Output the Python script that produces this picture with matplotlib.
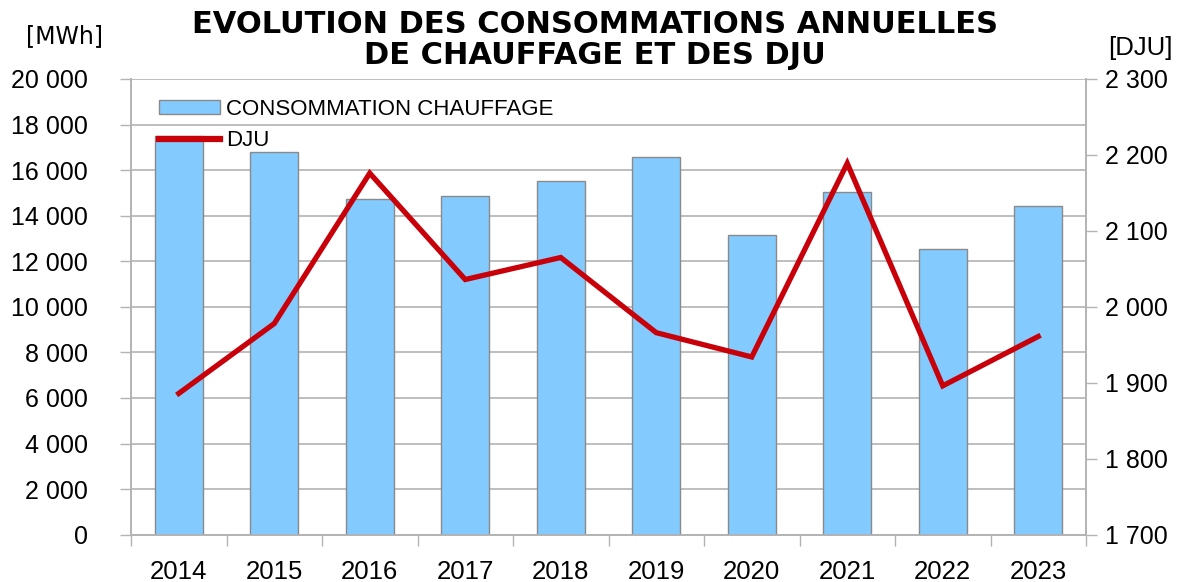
import matplotlib
matplotlib.use("Agg")
import matplotlib.pyplot as plt
from matplotlib.ticker import FuncFormatter, FixedLocator
from matplotlib.patches import Patch
from matplotlib.lines import Line2D

years = ["2014", "2015", "2016", "2017", "2018", "2019", "2020", "2021", "2022", "2023"]
consommation = [17520, 16810, 14750, 14860, 15540, 16590, 13150, 15060, 12530, 14440]
dju = [1886, 1978, 2176, 2036, 2065, 1966, 1934, 2189, 1896, 1961]

plt.rcParams['font.family'] = ['Liberation Sans', 'DejaVu Sans']

fig = plt.figure(figsize=(11.81, 5.82), dpi=100)
ax = fig.add_axes([131/1181, 1 - 534.7/582, (1086-131)/1181, (534.7-79)/582])
ax2 = ax.twinx()

grid_c = "#b3b3b3"
red = "#c8000a"
x = list(range(len(years)))
ax.bar(x, consommation, width=0.5, color="#83caff", edgecolor="#8a8a8a", linewidth=1, zorder=3)
ax.set_xlim(-0.5, len(years) - 0.5)
ax.set_ylim(0, 20000)
ax.set_yticks(range(0, 20001, 2000))
fmt = FuncFormatter(lambda v, p: f"{int(v):,}".replace(",", " "))
ax.yaxis.set_major_formatter(fmt)
ax.yaxis.grid(True, color=grid_c, linewidth=1.2, zorder=0)
ax.set_axisbelow(True)
ax.set_xticks(x)
ax.set_xticklabels(years)
ax.xaxis.set_minor_locator(FixedLocator([i - 0.5 for i in range(len(years) + 1)]))
ax.tick_params(axis='x', which='major', length=0, labelsize=18.5, pad=18)
ax.tick_params(axis='x', which='minor', length=8, color=grid_c, width=1)
ax.tick_params(axis='y', length=8, color=grid_c, width=1, labelsize=18, pad=23)

ax2.plot(x, dju, color=red, linewidth=3.8, solid_joinstyle='miter', zorder=4)
ax2.set_ylim(1700, 2300)
ax2.set_yticks(range(1700, 2301, 100))
ax2.yaxis.set_major_formatter(fmt)
ax2.tick_params(axis='y', length=8, color=grid_c, width=1, labelsize=18, pad=6)

for a in (ax, ax2):
    a.spines['top'].set_visible(False)
    for s in ('left', 'right', 'bottom'):
        a.spines[s].set_color(grid_c)
        a.spines[s].set_linewidth(1.2)

handles = [Patch(facecolor="#83caff", edgecolor="#8a8a8a", linewidth=1),
           Line2D([0], [0], color=red, linewidth=4.5)]
leg = ax2.legend(handles, ["CONSOMMATION CHAUFFAGE", "DJU"], loc="upper left",
                 bbox_to_anchor=(0.008, 1.0), frameon=False, fontsize=16,
                 handlelength=2.75, handleheight=0.59, handletextpad=0.3, labelspacing=0.45,
                 borderpad=0.5, borderaxespad=0.4)

fig.text(595/1181, 1 - 40/582, "EVOLUTION DES CONSOMMATIONS ANNUELLES\nDE CHAUFFAGE ET DES DJU",
         ha="center", va="center", fontsize=22, fontweight="bold", family=["DejaVu Sans"],
         linespacing=1.07)
fig.text(64/1181, 1 - 36/582, "[MWh]", ha="center", va="center", fontsize=17, family=["DejaVu Sans"])
fig.text(1140/1181, 1 - 48/582, "[DJU]", ha="center", va="center", fontsize=18.5)

fig.savefig("out.png", dpi=100)
